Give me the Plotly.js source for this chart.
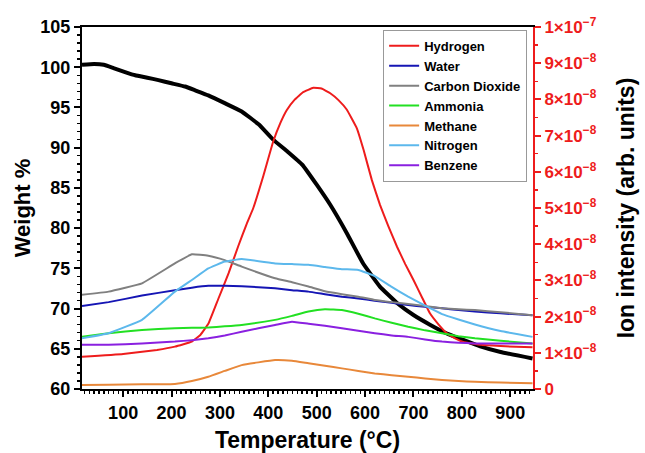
<!DOCTYPE html>
<html>
<head>
<meta charset="utf-8">
<script src="https://cdn.plot.ly/plotly-3.0.1.min.js"></script>
<style>html,body{margin:0;padding:0;background:#fff;}#chart{width:645px;height:453px;}</style>
</head>
<body>
<div id="chart"></div>
<script>
// Weight loss (left axis, %)
const weightT = [15, 40, 60, 80, 104, 125, 150, 173, 200, 228, 250, 276, 311, 345, 380, 410, 440, 470, 500, 528, 562, 596, 631, 666, 700, 734, 769, 803, 838, 880, 946];
const weightPct = [100.3, 100.4, 100.3, 99.9, 99.4, 99.0, 98.7, 98.4, 98.0, 97.6, 97.1, 96.5, 95.5, 94.5, 92.9, 91.0, 89.5, 87.9, 85.4, 82.9, 79.4, 75.6, 72.7, 70.7, 69.2, 68.0, 66.9, 66.1, 65.3, 64.6, 63.8];

// Ion intensities (right axis), values in units of 1e-8
const ionUnit = 1e-8;
const h2T = [15, 100, 170, 207, 242, 260, 276, 297, 318, 338, 355, 369, 390, 410, 425, 438, 455, 472, 493, 510, 528, 545, 562, 583, 597, 614, 631, 648, 666, 683, 700, 717, 734, 752, 769, 786, 803, 840, 890, 946];
const h2I = [0.89, 0.97, 1.08, 1.17, 1.31, 1.5, 1.8, 2.5, 3.2, 3.95, 4.55, 5.0, 5.9, 6.83, 7.35, 7.7, 8.0, 8.2, 8.32, 8.3, 8.17, 7.98, 7.72, 7.2, 6.6, 5.77, 5.08, 4.5, 3.93, 3.45, 3.01, 2.55, 2.09, 1.78, 1.54, 1.4, 1.3, 1.22, 1.18, 1.15];

const msT = [15, 70, 139, 207, 242, 276, 310, 345, 414, 449, 483, 517, 552, 586, 620, 655, 689, 724, 759, 793, 827, 880, 946];
const waterI    = [2.29, 2.40, 2.58, 2.73, 2.80, 2.85, 2.85, 2.84, 2.78, 2.73, 2.69, 2.62, 2.55, 2.50, 2.44, 2.38, 2.32, 2.27, 2.23, 2.18, 2.14, 2.09, 2.04];
const co2I      = [2.60, 2.69, 2.92, 3.47, 3.72, 3.68, 3.56, 3.38, 3.06, 2.95, 2.83, 2.70, 2.62, 2.55, 2.46, 2.40, 2.35, 2.29, 2.23, 2.20, 2.18, 2.12, 2.04];
const ammoniaI  = [1.44, 1.54, 1.63, 1.68, 1.69, 1.70, 1.73, 1.77, 1.91, 2.02, 2.14, 2.20, 2.18, 2.08, 1.95, 1.83, 1.72, 1.62, 1.54, 1.46, 1.40, 1.33, 1.26];
const methaneI  = [0.11, 0.12, 0.13, 0.14, 0.22, 0.34, 0.50, 0.66, 0.80, 0.78, 0.71, 0.64, 0.57, 0.50, 0.43, 0.38, 0.34, 0.29, 0.25, 0.22, 0.20, 0.18, 0.16];
const nitrogenI = [1.40, 1.54, 1.91, 2.69, 3.01, 3.33, 3.52, 3.59, 3.47, 3.45, 3.43, 3.37, 3.31, 3.29, 3.12, 2.82, 2.55, 2.30, 2.07, 1.92, 1.78, 1.60, 1.44];
const benzeneI  = [1.22, 1.22, 1.26, 1.31, 1.35, 1.40, 1.48, 1.58, 1.77, 1.86, 1.80, 1.75, 1.68, 1.61, 1.54, 1.48, 1.44, 1.37, 1.31, 1.28, 1.26, 1.26, 1.26];

const seriesNames = ['Hydrogen', 'Water', 'Carbon Dioxide', 'Ammonia', 'Methane', 'Nitrogen', 'Benzene'];
const seriesColors = ['#ee1c1c', '#1515b4', '#808080', '#22e022', '#e8883a', '#5cb8ec', '#8a20e0'];
const seriesX = [h2T, msT, msT, msT, msT, msT, msT];
const seriesY = [h2I, waterI, co2I, ammoniaI, methaneI, nitrogenI, benzeneI];

const yTickVals = [0, 1, 2, 3, 4, 5, 6, 7, 8, 9, 10].map(v => v * ionUnit);
const yTickText = ['0', '1×10<sup>−8</sup>', '2×10<sup>−8</sup>', '3×10<sup>−8</sup>', '4×10<sup>−8</sup>', '5×10<sup>−8</sup>',
  '6×10<sup>−8</sup>', '7×10<sup>−8</sup>', '8×10<sup>−8</sup>', '9×10<sup>−8</sup>', '1×10<sup>−7</sup>'];

const traces = [];
seriesNames.forEach((n, i) => {
  traces.push({
    x: seriesX[i], y: seriesY[i].map(v => v * ionUnit), name: n, yaxis: 'y2',
    type: 'scatter', mode: 'lines', line: {color: seriesColors[i], width: 2, shape: 'spline', smoothing: 0.3}
  });
});
traces.push({
  x: weightT, y: weightPct, name: 'Weight', yaxis: 'y', showlegend: false,
  type: 'scatter', mode: 'lines', line: {color: '#000', width: 4, shape: 'spline', smoothing: 0.3}
});

const fnt = 'Liberation Sans, Arial, sans-serif';
const layout = {
  width: 645, height: 453,
  margin: {l: 82, r: 112, t: 27, b: 64},
  paper_bgcolor: '#fff', plot_bgcolor: '#fff',
  font: {family: fnt, color: '#000'},
  showlegend: true,
  legend: {
    x: 0.987, y: 0.992, xanchor: 'right', yanchor: 'top',
    bgcolor: '#fff', bordercolor: '#999', borderwidth: 1,
    font: {family: fnt, size: 13, weight: 'bold', color: '#000'},
    tracegroupgap: 0, itemwidth: 30
  },
  xaxis: {
    range: [15, 947], showgrid: false, zeroline: false,
    showline: true, linecolor: '#000', linewidth: 2, mirror: true,
    ticks: 'outside', ticklen: 6, tickwidth: 2, tickcolor: '#000',
    tickvals: [100, 200, 300, 400, 500, 600, 700, 800, 900],
    minor: {dtick: 10, tick0: 0, ticks: 'outside', ticklen: 3, tickwidth: 1.5, tickcolor: '#000'},
    tickfont: {family: fnt, size: 18, weight: 'bold', color: '#000'},
    title: {text: 'Temperature (°C)', font: {family: fnt, size: 23, weight: 'bold', color: '#000'}, standoff: 14}
  },
  yaxis: {
    range: [60, 105], showgrid: false, zeroline: false,
    showline: true, linecolor: '#000', linewidth: 2,
    ticks: 'outside', ticklen: 6, tickwidth: 2, tickcolor: '#000',
    dtick: 5, tick0: 60,
    minor: {dtick: 1, ticks: 'outside', ticklen: 3, tickwidth: 1.5, tickcolor: '#000'},
    tickfont: {family: fnt, size: 18, weight: 'bold', color: '#000'},
    title: {text: 'Weight %', font: {family: fnt, size: 22, weight: 'bold', color: '#000'}, standoff: 4}
  },
  yaxis2: {
    overlaying: 'y', side: 'right', range: [0, 1e-7], showgrid: false, zeroline: false,
    showline: true, linecolor: '#ee1c1c', linewidth: 2,
    ticks: 'outside', ticklen: 6, tickwidth: 2, tickcolor: '#ee1c1c',
    tickvals: yTickVals, ticktext: yTickText,
    minor: {dtick: 0.5e-8, ticks: 'outside', ticklen: 3, tickwidth: 1.5, tickcolor: '#ee1c1c'},
    tickfont: {family: fnt, size: 17, weight: 'bold', color: '#ee1c1c'},
    title: {text: 'Ion intensity (arb. units)', font: {family: fnt, size: 23, weight: 'bold', color: '#000'}, standoff: 22}
  }
};

Plotly.newPlot('chart', traces, layout, {staticPlot: true, displayModeBar: false});
</script>
</body>
</html>
